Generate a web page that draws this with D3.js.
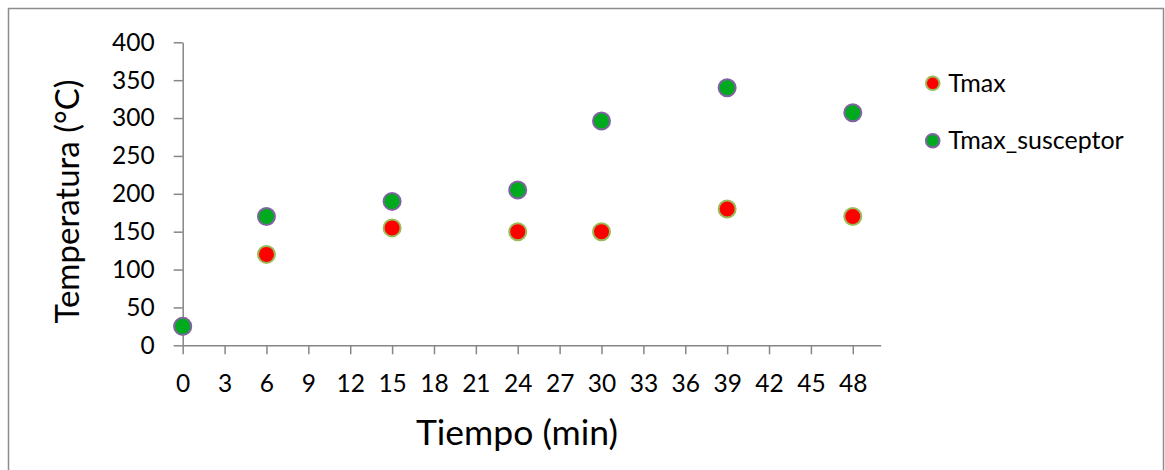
<!DOCTYPE html>
<html>
<head>
<meta charset="utf-8">
<script src="https://cdn.jsdelivr.net/npm/d3@7"></script>
<style>
  html, body { margin: 0; padding: 0; background: #fff; }
  svg { display: block; font-family: Lato, "Open Sans", sans-serif; }
</style>
</head>
<body>
<svg id="chart" width="1165" height="470"></svg>
<script>
// Data
const tiempo = [0, 6, 15, 24, 30, 39, 48];
const tmax = [25, 120, 155, 150, 150, 180, 170];
const tmaxSusceptor = [25, 170, 190, 205, 296, 340, 307];
const xTicks = d3.range(0, 49, 3);
const yTicks = d3.range(0, 401, 50);
const seriesNames = ["Tmax", "Tmax_susceptor"];

const series = [
  { name: seriesNames[0], values: tmax, fill: "#FF0000", stroke: "#9BBB59" },
  { name: seriesNames[1], values: tmaxSusceptor, fill: "#00AA1E", stroke: "#8064A2" }
];

const svg = d3.select("#chart");

// Outer frame (chart area border, bottom runs off the picture)
svg.append("path")
  .attr("d", "M8.5,480 L8.5,8.5 L1163.5,8.5 L1163.5,480")
  .attr("fill", "none")
  .attr("stroke", "#8c8c8c")
  .attr("stroke-width", 1.5);

// Scales
const x = d3.scaleLinear().domain([0, 50]).range([182.7, 880.7]);
const y = d3.scaleLinear().domain([0, 400]).range([345.3, 42.3]);

// Axes
const xAxis = d3.axisBottom(x).tickValues(xTicks).tickSize(9).tickSizeOuter(0).tickPadding(20);
const yAxis = d3.axisLeft(y).tickValues(yTicks).tickSize(9).tickSizeOuter(0).tickPadding(19);

const gx = svg.append("g")
  .attr("transform", `translate(0, ${ y(0) })`)
  .call(xAxis);

const gy = svg.append("g")
  .attr("transform", `translate(${ x(0) }, 0)`)
  .call(yAxis);

[gx, gy].forEach(g =>
{
  g.select(".domain").attr("stroke", "#868686").attr("stroke-width", 1.5);
  g.selectAll(".tick line").attr("stroke", "#868686").attr("stroke-width", 1.5);
  g.selectAll(".tick text")
    .attr("fill", "#000")
    .attr("font-size", "24.5px")
    .attr("font-family", "Lato, sans-serif");
});

// Axis titles
svg.append("text")
  .attr("x", 517)
  .attr("y", 445)
  .attr("text-anchor", "middle")
  .attr("font-size", "35.5px")
  .attr("fill", "#000")
  .text("Tiempo (min)");

svg.append("text")
  .attr("transform", "translate(79, 201.5) rotate(-90)")
  .attr("text-anchor", "middle")
  .attr("font-size", "33px")
  .attr("fill", "#000")
  .text("Temperatura (°C)");

// Points
series.forEach(s =>
{
  svg.append("g")
    .selectAll("circle")
    .data(tiempo.map((t, i) => ({ t: t, v: s.values[i] })))
    .enter()
    .append("circle")
    .attr("cx", d => x(d.t))
    .attr("cy", d => y(d.v))
    .attr("r", 8.5)
    .attr("fill", s.fill)
    .attr("stroke", s.stroke)
    .attr("stroke-width", 2);
});

// Legend
const legend = svg.append("g")
  .selectAll("g")
  .data(series)
  .enter()
  .append("g")
  .attr("transform", (d, i) => `translate(932.7, ${ 83.3 + i * 57.4 })`);

legend.append("circle")
  .attr("r", 6.8)
  .attr("fill", d => d.fill)
  .attr("stroke", d => d.stroke)
  .attr("stroke-width", 2);

legend.append("text")
  .attr("x", 15.5)
  .attr("y", 8.6)
  .attr("font-size", "25px")
  .attr("fill", "#000")
  .text(d => d.name);
</script>
</body>
</html>
